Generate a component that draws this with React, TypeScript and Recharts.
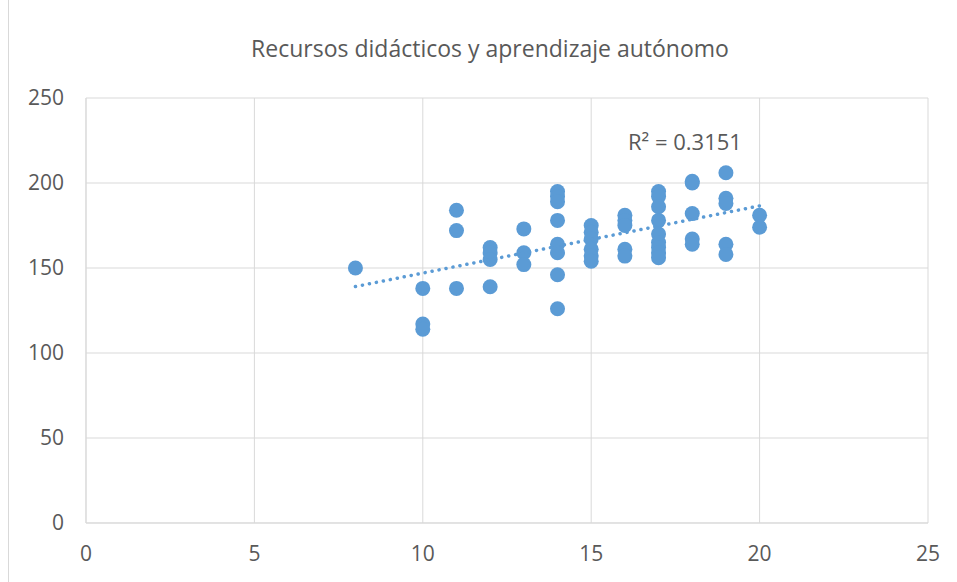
import React from 'react';
import {
  ScatterChart,
  Scatter,
  XAxis,
  YAxis,
  CartesianGrid,
} from 'recharts';

// recursos didácticos (x) vs aprendizaje autónomo (y)
const recursos = [
  8,
  10, 10, 10,
  11, 11, 11,
  12, 12, 12, 12,
  13, 13, 13,
  14, 14, 14, 14, 14, 14, 14, 14,
  15, 15, 15, 15, 15, 15,
  16, 16, 16, 16, 16,
  17, 17, 17, 17, 17, 17, 17, 17, 17,
  18, 18, 18, 18, 18,
  19, 19, 19, 19, 19,
  20, 20,
];

const aprendizaje = [
  150,
  138, 117, 114,
  184, 172, 138,
  162, 159, 155, 139,
  173, 159, 152,
  195, 192, 189, 178, 164, 159, 146, 126,
  175, 171, 167, 161, 157, 154,
  181, 178, 175, 161, 157,
  195, 192, 186, 178, 170, 165, 162, 159, 156,
  201, 200, 182, 167, 164,
  206, 191, 188, 164, 158,
  181, 174,
];

const xTicks = [0, 5, 10, 15, 20, 25];
const yTicks = [0, 50, 100, 150, 200, 250];
const rSquaredLabel = 'R² = 0.3151';

const points = recursos.map((x, i) => ({ x, y: aprendizaje[i] }));

// least squares trendline over the data range
function trendline(xs: number[], ys: number[]) {
  const n = xs.length;
  const mx = xs.reduce((a, b) => a + b, 0) / n;
  const my = ys.reduce((a, b) => a + b, 0) / n;
  let sxy = 0;
  let sxx = 0;
  xs.forEach((x, i) => {
    sxy += (x - mx) * (ys[i] - my);
    sxx += (x - mx) * (x - mx);
  });
  const slope = sxy / sxx;
  const intercept = my - slope * mx;
  const lo = Math.min(...xs);
  const hi = Math.max(...xs);
  return [
    { x: lo, y: intercept + slope * lo },
    { x: hi, y: intercept + slope * hi },
  ];
}

const trend = trendline(recursos, aprendizaje);

const BLUE = '#5b9bd5';
const GRID = '#d9d9d9';
const TEXT = '#595959';
const FONT = '"Open Sans", "Noto Sans", sans-serif';

const Dot = (props: any) => {
  const { cx, cy } = props;
  if (cx == null || cy == null) return null;
  return <circle cx={cx} cy={cy} r={7.5} fill={BLUE} />;
};

export default function App() {
  return (
    <div style={{ position: 'absolute', left: 0, top: 0, width: 957, height: 582, background: '#fff', overflow: 'hidden', fontFamily: FONT }}>
      <div style={{ position: 'absolute', left: 8, top: -2, width: 960, height: 600, border: '1px solid #d9d9d9' }} />
      <div style={{ position: 'absolute', left: 0, top: 32, width: 980, textAlign: 'center', fontSize: 23, color: TEXT }}>
        Recursos didácticos y aprendizaje autónomo
      </div>
      <div style={{ position: 'absolute', left: 0, top: 0 }}>
        <ScatterChart width={957} height={582} margin={{ top: 98, right: 29, bottom: 29, left: 26 }}>
          <CartesianGrid stroke={GRID} strokeWidth={1} horizontal vertical />
          <XAxis
            type="number"
            dataKey="x"
            domain={[0, 25]}
            ticks={xTicks}
            axisLine={{ stroke: GRID }}
            tickLine={false}
            tickSize={0}
            tickMargin={23}
            height={30}
            fontSize={21}
            tick={{ fill: TEXT, fontSize: 21, fontFamily: FONT }}
          />
          <YAxis
            type="number"
            dataKey="y"
            domain={[0, 250]}
            ticks={yTicks}
            axisLine={{ stroke: GRID }}
            tickLine={false}
            tickSize={0}
            tickMargin={22}
            width={60}
            fontSize={21}
            tick={{ fill: TEXT, fontSize: 21, fontFamily: FONT }}
          />
          <Scatter data={points} fill={BLUE} shape={<Dot />} isAnimationActive={false} />
          <Scatter
            data={trend}
            line={{ stroke: BLUE, strokeWidth: 3.5, strokeDasharray: '0.1 7', strokeLinecap: 'round' }}
            shape={() => null}
            isAnimationActive={false}
          />
        </ScatterChart>
      </div>
      <div style={{ position: 'absolute', left: 628, top: 126, fontSize: 22, color: TEXT }}>{rSquaredLabel}</div>
    </div>
  );
}
